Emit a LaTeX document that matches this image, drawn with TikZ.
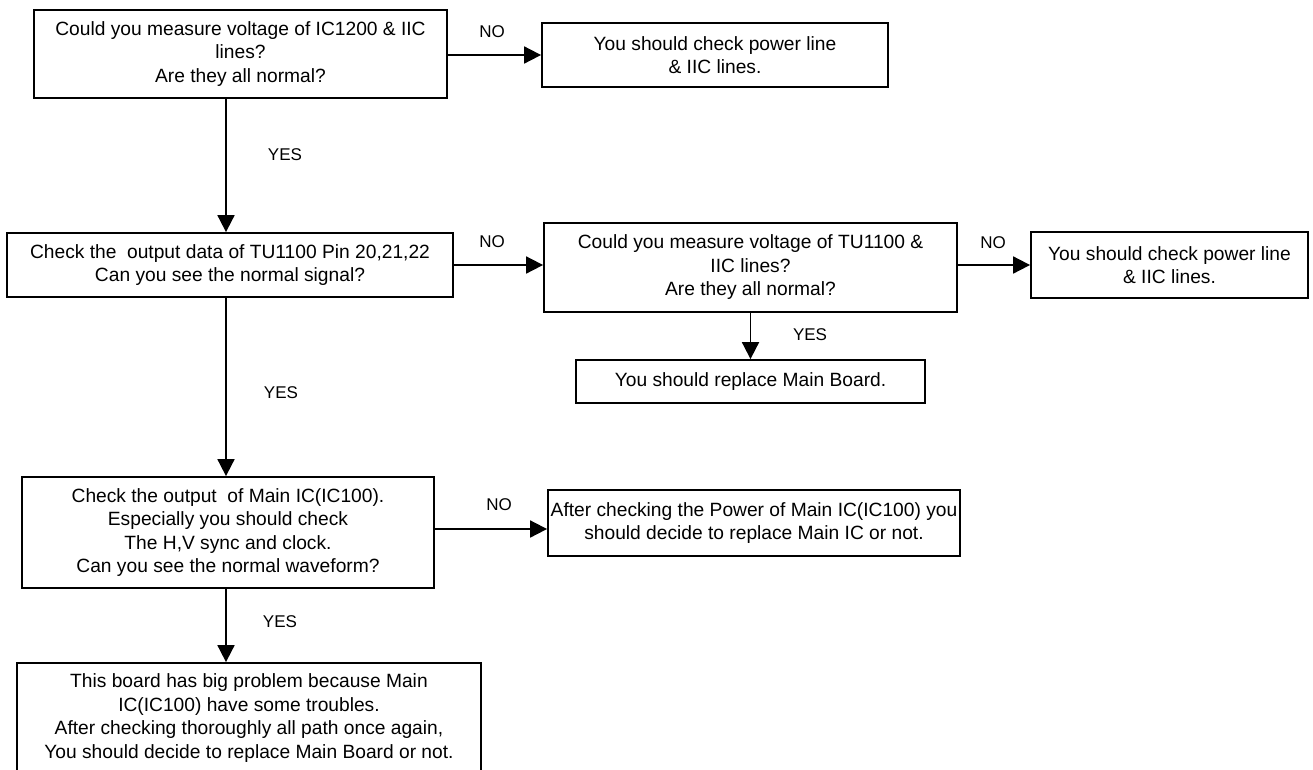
\documentclass[tikz,border=0pt]{standalone}
\usepackage{fontspec}
\setmainfont{Liberation Sans}
\usepackage{tikz}
\usetikzlibrary{arrows.meta}

\begin{document}
\begin{tikzpicture}[x=1pt, y=-1pt,
  box/.style={draw, line width=1.8pt, align=center, inner sep=0pt, font=\fontsize{19.2}{23.5}\selectfont},
  arr/.style={line width=1.8pt, -{Triangle[length=17pt,width=17pt]}},
  tag/.style={font=\fontsize{17}{20}\selectfont}]
\useasboundingbox (0,0) rectangle (1313,769);
\clip (0,0) rectangle (1313,769);
\coordinate (Spine) at (226,0);
\coordinate (RowG) at (0,529);
\node[box, minimum width=413pt, minimum height=88pt] (CheckIC) at (240.5,54) {Could you measure voltage of IC1200 \& IIC\\lines?\\Are they all normal?};
\node[box, minimum width=346pt, minimum height=64pt] (PowerA) at (715,55) {You should check power line\\\& IIC lines.};
\node[box, minimum width=446pt, minimum height=64pt] (CheckTU) at (230,265) {Check the\ \ output data of TU1100 Pin 20,21,22\\Can you see the normal signal?};
\node[box, minimum width=413pt, minimum height=89pt] (VoltTU) at (750.5,267.5) {Could you measure voltage of TU1100 \&\\IIC lines?\\Are they all normal?};
\node[box, minimum width=277pt, minimum height=66pt] (PowerB) at (1169.5,265) {You should check power line\\\& IIC lines.};
\node[box, minimum width=349pt, minimum height=43pt] (ReplaceA) at (750.5,381.5) {You should replace Main Board.};
\node[box, minimum width=412pt, minimum height=111pt] (CheckMain) at (228,532.5) {Check the output\ \ of Main IC(IC100).\\Especially you should check\\The H,V sync and clock.\\Can you see the normal waveform?};
\node[box, minimum width=412pt, minimum height=66pt] (PowerMain) at (754,523) {After checking the Power of Main IC(IC100) you\\should decide to replace Main IC or not.};
\node[box, minimum width=464pt, minimum height=110pt] (BigProb) at (249,718) {This board has big problem because Main\\IC(IC100) have some troubles.\\After checking thoroughly all path once again,\\You should decide to replace Main Board or not.};
\draw[arr] (CheckIC.east |- PowerA) -- (PowerA.west);
\draw[arr] (CheckIC.south -| Spine) -- (CheckTU.north -| Spine);
\draw[arr] (CheckTU.east |- PowerB) -- (VoltTU.west |- PowerB);
\draw[arr] (VoltTU.east |- PowerB) -- (PowerB.west);
\draw[arr] (VoltTU.south -| ReplaceA) -- (ReplaceA.north);
\draw[arr] (CheckTU.south -| Spine) -- (CheckMain.north -| Spine);
\draw[arr] (CheckMain.east |- RowG) -- (PowerMain.west |- RowG);
\draw[arr] (CheckMain.south -| Spine) -- (BigProb.north -| Spine);
\node[tag] (NoA) at (492,32) {NO};
\node[tag] (YesA) at (285,155) {YES};
\node[tag] (NoB) at (492,242) {NO};
\node[tag] (NoC) at (993,243) {NO};
\node[tag] (YesC) at (810,335) {YES};
\node[tag] (YesB) at (281,393) {YES};
\node[tag] (NoD) at (499,505) {NO};
\node[tag] (YesD) at (280,622) {YES};
\end{tikzpicture}
\end{document}
